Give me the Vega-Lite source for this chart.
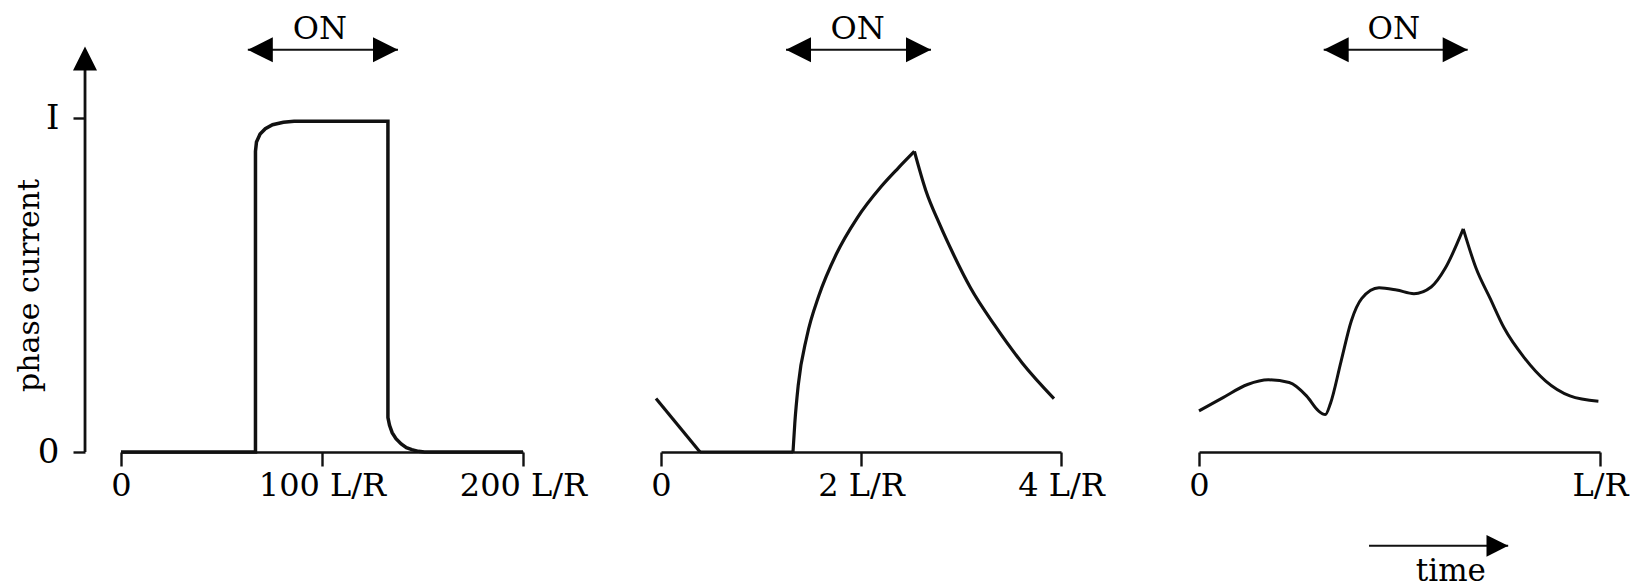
{
  "$schema": "https://vega.github.io/schema/vega-lite/v6.json",
  "background": "white",
  "padding": {"left": 14, "top": 12, "right": 5, "bottom": 0},
  "config": {
    "view": {"stroke": null},
    "axis": {
      "grid": false,
      "domainColor": "#111",
      "domainWidth": 2.6,
      "tickColor": "#111",
      "tickWidth": 2.4,
      "labelFont": "DejaVu Serif",
      "labelColor": "#000",
      "labelFlush": false,
      "labelOverlap": false,
      "labelBound": false,
      "titleFont": "DejaVu Serif",
      "titleFontWeight": "normal",
      "titleColor": "#000"
    },
    "axisX": {"tickSize": 14, "labelPadding": 4, "labelFontSize": 32, "labelDx": 2},
    "axisY": {"tickSize": 12, "labelPadding": 14, "labelFontSize": 34, "titleFontSize": 30, "titlePadding": -7}
  },
  "hconcat": [
    {
      "width": 402,
      "height": 334,
      "layer": [
        {
          "data": {"values": [
            {"t": 0, "i": 0}, {"t": 66.9, "i": 0}, {"t": 66.9, "i": 0.9}, {"t": 67.4, "i": 0.928},
            {"t": 69.2, "i": 0.952}, {"t": 71.8, "i": 0.968}, {"t": 75.4, "i": 0.98}, {"t": 80.8, "i": 0.987},
            {"t": 86.1, "i": 0.99}, {"t": 132.8, "i": 0.99}, {"t": 132.8, "i": 0.103}, {"t": 133.6, "i": 0.08},
            {"t": 134.9, "i": 0.058}, {"t": 136.8, "i": 0.04}, {"t": 139.4, "i": 0.024}, {"t": 142, "i": 0.013},
            {"t": 144.7, "i": 0.007}, {"t": 148, "i": 0.002}, {"t": 151, "i": 0}, {"t": 200, "i": 0}
          ]},
          "mark": {"type": "line", "color": "#111", "strokeWidth": 3.5, "interpolate": "linear"},
          "encoding": {
            "x": {"field": "t", "type": "quantitative", "scale": {"domain": [0, 200], "nice": false},
                  "axis": {"values": [0, 100, 200], "labelExpr": "datum.value == 0 ? '0' : datum.value + ' L/R'", "title": null}},
            "y": {"field": "i", "type": "quantitative", "scale": {"domain": [0, 1], "nice": false},
                  "axis": {"values": [0, 1], "labelExpr": "datum.value == 1 ? 'I' : '0'", "offset": 36, "domain": false, "title": "phase current"}}
          }
        },
        {
          "data": {"values": [{"x": -17.9, "y": 0, "y2": 1.15}]},
          "mark": {"type": "rule", "color": "#111", "strokeWidth": 2.8},
          "encoding": {
            "x": {"field": "x", "type": "quantitative", "scale": {"domain": [0, 200], "nice": false}},
            "y": {"field": "y", "type": "quantitative", "scale": {"domain": [0, 1], "nice": false}},
            "y2": {"field": "y2"}
          }
        },
        {
          "data": {"values": [{"x": 63.1, "x2": 137.8, "y": 1.204}]},
          "mark": {"type": "rule", "color": "#111", "strokeWidth": 2},
          "encoding": {
            "x": {"field": "x", "type": "quantitative", "scale": {"domain": [0, 200], "nice": false}},
            "x2": {"field": "x2"},
            "y": {"field": "y", "type": "quantitative", "scale": {"domain": [0, 1], "nice": false}}
          }
        },
        {
          "data": {"values": [
            {"x": 63.1, "y": 1.204, "dir": "left"},
            {"x": 137.8, "y": 1.204, "dir": "right"}
          ]},
          "mark": {"type": "point", "filled": true, "opacity": 1, "color": "#000", "size": 625, "strokeWidth": 0},
          "encoding": {
            "x": {"field": "x", "type": "quantitative", "scale": {"domain": [0, 200], "nice": false}},
            "y": {"field": "y", "type": "quantitative", "scale": {"domain": [0, 1], "nice": false}},
            "shape": {"field": "dir", "type": "nominal", "legend": null,
                      "scale": {"domain": ["left", "right", "up"], "range": ["M0,0L2,-1L2,1Z", "M0,0L-2,-1L-2,1Z", "M0,0L-1,2L1,2Z"]}}
          }
        },
        {
          "data": {"values": [{"x": -17.9, "y": 1.214, "dir": "up"}]},
          "mark": {"type": "point", "filled": true, "opacity": 1, "color": "#000", "size": 576, "strokeWidth": 0},
          "encoding": {
            "x": {"field": "x", "type": "quantitative", "scale": {"domain": [0, 200], "nice": false}},
            "y": {"field": "y", "type": "quantitative", "scale": {"domain": [0, 1], "nice": false}},
            "shape": {"field": "dir", "type": "nominal", "legend": null,
                      "scale": {"domain": ["left", "right", "up"], "range": ["M0,0L2,-1L2,1Z", "M0,0L-2,-1L-2,1Z", "M0,0L-1,2L1,2Z"]}}
          }
        },
        {
          "data": {"values": [{"x": 98.9, "y": 1.238, "label": "ON"}]},
          "mark": {"type": "text", "font": "DejaVu Serif", "fontSize": 32, "color": "#000", "align": "center", "baseline": "alphabetic"},
          "encoding": {
            "x": {"field": "x", "type": "quantitative", "scale": {"domain": [0, 200], "nice": false}},
            "y": {"field": "y", "type": "quantitative", "scale": {"domain": [0, 1], "nice": false}},
            "text": {"field": "label"}
          }
        }
      ]
    },
    {
      "width": 400,
      "height": 334,
      "layer": [
        {
          "data": {"values": [
            {"s": "A", "t": -0.05, "i": 0.16}, {"s": "A", "t": 0.39, "i": 0},
            {"s": "B", "t": 0.39, "i": 0}, {"s": "B", "t": 1.32, "i": 0},
            {"s": "C", "t": 1.32, "i": 0}, {"s": "C", "t": 1.338, "i": 0.086}, {"s": "C", "t": 1.372, "i": 0.199},
            {"s": "C", "t": 1.458, "i": 0.345}, {"s": "C", "t": 1.58, "i": 0.469}, {"s": "C", "t": 1.752, "i": 0.592},
            {"s": "C", "t": 1.958, "i": 0.699}, {"s": "C", "t": 2.2, "i": 0.794}, {"s": "C", "t": 2.372, "i": 0.85},
            {"s": "C", "t": 2.534, "i": 0.9},
            {"s": "D", "t": 2.534, "i": 0.9}, {"s": "D", "t": 2.648, "i": 0.783}, {"s": "D", "t": 2.786, "i": 0.682},
            {"s": "D", "t": 2.924, "i": 0.592}, {"s": "D", "t": 3.096, "i": 0.491}, {"s": "D", "t": 3.338, "i": 0.379},
            {"s": "D", "t": 3.614, "i": 0.266}, {"s": "D", "t": 3.93, "i": 0.16}
          ]},
          "mark": {"type": "line", "color": "#111", "strokeWidth": 3.2, "interpolate": "monotone"},
          "encoding": {
            "x": {"field": "t", "type": "quantitative", "scale": {"domain": [0, 4], "nice": false},
                  "axis": {"values": [0, 2, 4], "labelExpr": "datum.value == 0 ? '0' : datum.value + ' L/R'", "title": null}},
            "y": {"field": "i", "type": "quantitative", "scale": {"domain": [0, 1], "nice": false}, "axis": null},
            "detail": {"field": "s"}
          }
        },
        {
          "data": {"values": [{"x": 1.25, "x2": 2.7, "y": 1.204}]},
          "mark": {"type": "rule", "color": "#111", "strokeWidth": 2},
          "encoding": {
            "x": {"field": "x", "type": "quantitative", "scale": {"domain": [0, 4], "nice": false}},
            "x2": {"field": "x2"},
            "y": {"field": "y", "type": "quantitative", "scale": {"domain": [0, 1], "nice": false}, "axis": null}
          }
        },
        {
          "data": {"values": [
            {"x": 1.25, "y": 1.204, "dir": "left"},
            {"x": 2.7, "y": 1.204, "dir": "right"}
          ]},
          "mark": {"type": "point", "filled": true, "opacity": 1, "color": "#000", "size": 625, "strokeWidth": 0},
          "encoding": {
            "x": {"field": "x", "type": "quantitative", "scale": {"domain": [0, 4], "nice": false}},
            "y": {"field": "y", "type": "quantitative", "scale": {"domain": [0, 1], "nice": false}, "axis": null},
            "shape": {"field": "dir", "type": "nominal", "legend": null,
                      "scale": {"domain": ["left", "right", "up"], "range": ["M0,0L2,-1L2,1Z", "M0,0L-2,-1L-2,1Z", "M0,0L-1,2L1,2Z"]}}
          }
        },
        {
          "data": {"values": [{"x": 1.967, "y": 1.238, "label": "ON"}]},
          "mark": {"type": "text", "font": "DejaVu Serif", "fontSize": 32, "color": "#000", "align": "center", "baseline": "alphabetic"},
          "encoding": {
            "x": {"field": "x", "type": "quantitative", "scale": {"domain": [0, 4], "nice": false}},
            "y": {"field": "y", "type": "quantitative", "scale": {"domain": [0, 1], "nice": false}, "axis": null},
            "text": {"field": "label"}
          }
        }
      ]
    },
    {
      "width": 401,
      "height": 334,
      "layer": [
        {
          "data": {"values": [
            {"s": "R", "t": 0, "i": 0.123}, {"s": "R", "t": 0.06, "i": 0.163}, {"s": "R", "t": 0.121, "i": 0.202},
            {"s": "R", "t": 0.173, "i": 0.216}, {"s": "R", "t": 0.225, "i": 0.208}, {"s": "R", "t": 0.268, "i": 0.168},
            {"s": "R", "t": 0.298, "i": 0.123}, {"s": "R", "t": 0.315, "i": 0.112}, {"s": "R", "t": 0.328, "i": 0.146},
            {"s": "R", "t": 0.354, "i": 0.27}, {"s": "R", "t": 0.38, "i": 0.393}, {"s": "R", "t": 0.406, "i": 0.46},
            {"s": "R", "t": 0.449, "i": 0.492}, {"s": "R", "t": 0.493, "i": 0.485}, {"s": "R", "t": 0.536, "i": 0.474},
            {"s": "R", "t": 0.579, "i": 0.494}, {"s": "R", "t": 0.614, "i": 0.55}, {"s": "R", "t": 0.659, "i": 0.668},
            {"s": "F", "t": 0.659, "i": 0.668}, {"s": "F", "t": 0.691, "i": 0.55}, {"s": "F", "t": 0.726, "i": 0.46},
            {"s": "F", "t": 0.761, "i": 0.371}, {"s": "F", "t": 0.812, "i": 0.281}, {"s": "F", "t": 0.864, "i": 0.213},
            {"s": "F", "t": 0.925, "i": 0.168}, {"s": "F", "t": 0.996, "i": 0.152}
          ]},
          "mark": {"type": "line", "color": "#111", "strokeWidth": 3, "interpolate": "monotone"},
          "encoding": {
            "x": {"field": "t", "type": "quantitative", "scale": {"domain": [0, 1], "nice": false},
                  "axis": {"values": [0, 1], "labelExpr": "datum.value == 0 ? '0' : 'L/R'", "title": null, "labelDx": 5}},
            "y": {"field": "i", "type": "quantitative", "scale": {"domain": [0, 1], "nice": false}, "axis": null},
            "detail": {"field": "s"}
          }
        },
        {
          "data": {"values": [
            {"x": 0.311, "x2": 0.67, "y": 1.204},
            {"x": 0.424, "x2": 0.771, "y": -0.281}
          ]},
          "mark": {"type": "rule", "color": "#111", "strokeWidth": 2},
          "encoding": {
            "x": {"field": "x", "type": "quantitative", "scale": {"domain": [0, 1], "nice": false}},
            "x2": {"field": "x2"},
            "y": {"field": "y", "type": "quantitative", "scale": {"domain": [0, 1], "nice": false}, "axis": null}
          }
        },
        {
          "data": {"values": [
            {"x": 0.311, "y": 1.204, "dir": "left"},
            {"x": 0.67, "y": 1.204, "dir": "right"}
          ]},
          "mark": {"type": "point", "filled": true, "opacity": 1, "color": "#000", "size": 625, "strokeWidth": 0},
          "encoding": {
            "x": {"field": "x", "type": "quantitative", "scale": {"domain": [0, 1], "nice": false}},
            "y": {"field": "y", "type": "quantitative", "scale": {"domain": [0, 1], "nice": false}, "axis": null},
            "shape": {"field": "dir", "type": "nominal", "legend": null,
                      "scale": {"domain": ["left", "right", "up"], "range": ["M0,0L2,-1L2,1Z", "M0,0L-2,-1L-2,1Z", "M0,0L-1,2L1,2Z"]}}
          }
        },
        {
          "data": {"values": [{"x": 0.771, "y": -0.281, "dir": "right"}]},
          "mark": {"type": "point", "filled": true, "opacity": 1, "color": "#000", "size": 470, "strokeWidth": 0},
          "encoding": {
            "x": {"field": "x", "type": "quantitative", "scale": {"domain": [0, 1], "nice": false}},
            "y": {"field": "y", "type": "quantitative", "scale": {"domain": [0, 1], "nice": false}, "axis": null},
            "shape": {"field": "dir", "type": "nominal", "legend": null,
                      "scale": {"domain": ["left", "right", "up"], "range": ["M0,0L2,-1L2,1Z", "M0,0L-2,-1L-2,1Z", "M0,0L-1,2L1,2Z"]}}
          }
        },
        {
          "data": {"values": [
            {"x": 0.486, "y": 1.238, "label": "ON"},
            {"x": 0.628, "y": -0.385, "label": "time"}
          ]},
          "mark": {"type": "text", "font": "DejaVu Serif", "fontSize": 31, "color": "#000", "align": "center", "baseline": "alphabetic"},
          "encoding": {
            "x": {"field": "x", "type": "quantitative", "scale": {"domain": [0, 1], "nice": false}},
            "y": {"field": "y", "type": "quantitative", "scale": {"domain": [0, 1], "nice": false}, "axis": null},
            "text": {"field": "label"}
          }
        }
      ]
    }
  ],
  "spacing": 138,
  "bounds": "flush"
}
